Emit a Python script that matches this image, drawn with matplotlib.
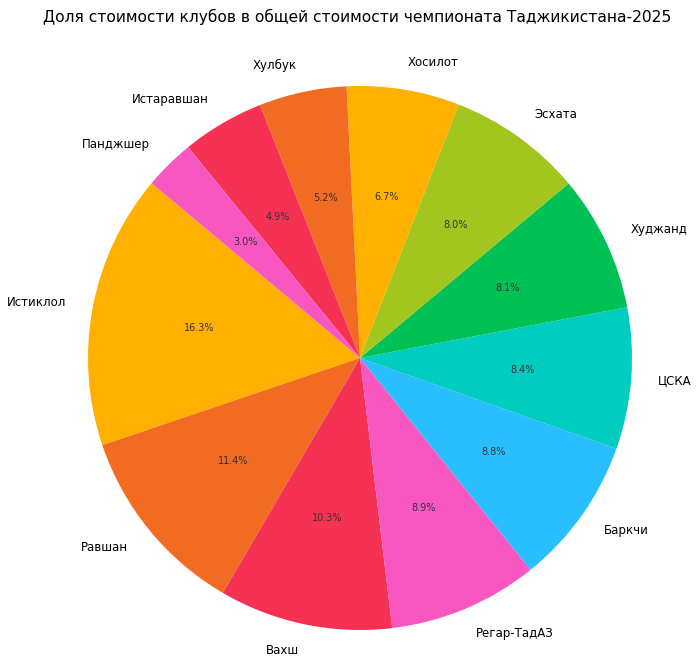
import matplotlib.pyplot as plt

clubs = ['Истиклол', 'Равшан', 'Вахш', 'Регар-ТадАЗ', 'Баркчи', 'ЦСКА',
         'Худжанд', 'Эсхата', 'Хосилот', 'Хулбук', 'Истаравшан', 'Панджшер']
shares = [16.3, 11.4, 10.3, 8.9, 8.8, 8.4, 8.1, 8.0, 6.7, 5.2, 4.9, 3.0]
colors = ['#FFB000', '#F26B22', '#F53154', '#F857C1', '#29BFFF', '#00CCC0',
          '#00C155', '#A2C61E', '#FFB000', '#F26B22', '#F53154', '#F857C1']

fig = plt.figure(figsize=(7, 6.65), dpi=100)
ax = fig.add_axes([0, 0, 1, 1])

wedges, texts, autotexts = ax.pie(shares, labels=clubs, colors=colors,
                                  autopct='%1.1f%%', startangle=140,
                                  textprops={'fontsize': 8.5})
for t in autotexts:
    t.set_fontsize(7)
    t.set_color('#333333')

# place the pie: centre at (360, 358) px from top-left, radius 272 px
r = 272
ax.set_xlim(-360 / r, 340 / r)
ax.set_ylim(-307 / r, 358 / r)
ax.set_aspect('equal')
ax.axis('off')

fig.text(357 / 700, 1 - 17 / 665, 'Доля стоимости клубов в общей стоимости чемпионата Таджикистана-2025',
         ha='center', va='center', fontsize=11.2)

fig.savefig('out.png', dpi=100)
